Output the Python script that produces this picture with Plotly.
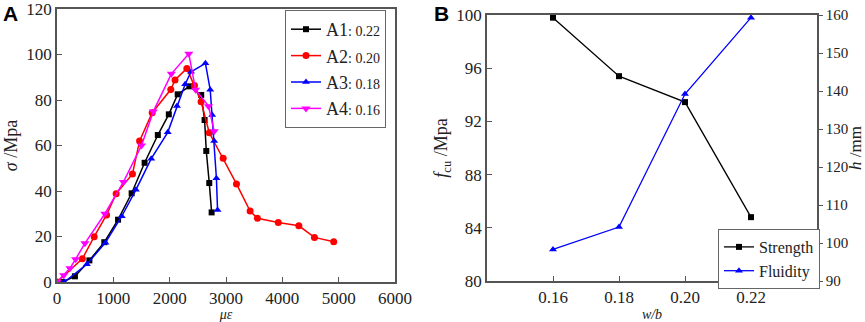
import plotly.graph_objects as go

# ---- Panel A data (stress-strain) ----
a1_x = [100, 318, 575, 840, 1084, 1325, 1555, 1790, 1985, 2143, 2350, 2560, 2620, 2650, 2703, 2745]
a1_y = [0, 2.5, 9.5, 17.5, 27.4, 39, 52.4, 64.6, 73.7, 82.5, 86, 82.2, 71.2, 57.6, 43.5, 30.6]
a2_x = [0, 450, 660, 880, 1050, 1340, 1466, 1690, 2020, 2095, 2305, 2440, 2558, 2703, 2950, 3186, 3428, 3557, 3928, 4293, 4570, 4912]
a2_y = [0, 10.2, 19.9, 29.5, 38.8, 47.5, 62, 74.4, 84.6, 88.8, 93.9, 86.4, 79.2, 65.6, 54.4, 43.1, 31.2, 28, 26.2, 24.7, 19.6, 17.7]
a3_x = [130, 530, 860, 1150, 1400, 1673, 1966, 2130, 2275, 2380, 2635, 2720, 2755, 2790, 2830, 2850]
a3_y = [0, 7.8, 17.3, 28.9, 40.5, 54.2, 65.8, 77.4, 86.9, 92.4, 96.1, 84.5, 73.4, 62, 45.6, 31.6]
a4_x = [0, 120, 230, 330, 495, 850, 1180, 1500, 1710, 2030, 2340, 2460, 2690, 2790]
a4_y = [0, 3, 6, 10, 17, 30, 44, 60, 75, 91.5, 100.3, 84.5, 77.3, 66.3]
a_names = ["A1", "A2", "A3", "A4"]
a_ratios = ["0.22", "0.20", "0.18", "0.16"]

# ---- Panel B data ----
wb = [0.16, 0.18, 0.20, 0.22]
strength = [99.8, 95.4, 93.45, 84.8]
fluidity = [98.3, 104.2, 139.2, 159.3]

SERIF = "Liberation Serif"
TXT = "#222222"
fig = go.Figure()

styles = [
    ("black", "square", 6),
    ("red", "circle", 7),
    ("blue", "triangle-up", 7),
    ("magenta", "triangle-down", 8),
]
for (xs, ys), name, ratio, (col, sym, sz) in zip(
    [(a1_x, a1_y), (a2_x, a2_y), (a3_x, a3_y), (a4_x, a4_y)], a_names, a_ratios, styles
):
    fig.add_trace(go.Scatter(
        x=xs, y=ys, mode="lines+markers",
        name=f"{name}<span style='font-size:14px'>: {ratio}</span>",
        line=dict(color=col, width=1.5),
        marker=dict(color=col, symbol=sym, size=sz),
        xaxis="x", yaxis="y", legend="legend",
    ))

fig.add_trace(go.Scatter(
    x=wb, y=strength, mode="lines+markers", name="Strength",
    line=dict(color="black", width=1.3), marker=dict(color="black", symbol="square", size=6),
    xaxis="x2", yaxis="y2", legend="legend2",
))
fig.add_trace(go.Scatter(
    x=wb, y=fluidity, mode="lines+markers", name="Fluidity",
    line=dict(color="blue", width=1.3), marker=dict(color="blue", symbol="triangle-up", size=7),
    xaxis="x2", yaxis="y3", legend="legend2",
))

W, H = 865, 322
axcol = "#555555"

def ax(size=17, **kw):
    base = dict(showline=True, linecolor=axcol, linewidth=1.5, mirror=True,
                ticks="inside", ticklen=5, tickcolor=axcol, showgrid=False,
                zeroline=False, ticklabeloverflow="allow",
                tickfont=dict(family=SERIF, size=size, color=TXT))
    base.update(kw)
    return base

fig.update_layout(
    width=W, height=H,
    font=dict(family=SERIF, size=17, color=TXT),
    margin=dict(l=0, r=0, t=0, b=0, autoexpand=False),
    paper_bgcolor="white", plot_bgcolor="white",
    showlegend=True,
    xaxis=ax(domain=[57/W, 395/W], range=[0, 6000], tickvals=[0, 1000, 2000, 3000, 4000, 5000, 6000],
             title=dict(text="<i>με</i>", font=dict(family=SERIF, size=14, color=TXT), standoff=5),
             anchor="y"),
    yaxis=ax(domain=[(H-282)/H, (H-9)/H], range=[0, 120], tickvals=[0, 20, 40, 60, 80, 100, 120],
             title=dict(text="<i>σ</i> /Mpa", font=dict(family=SERIF, size=18, color=TXT), standoff=4),
             anchor="x"),
    xaxis2=ax(domain=[487/W, 817/W], range=[0.14, 0.24], tickvals=[0.16, 0.18, 0.20, 0.22],
              ticktext=["0.16", "0.18", "0.20", "0.22"],
              title=dict(text="<i>w/b</i>", font=dict(family=SERIF, size=14, color=TXT), standoff=5),
              anchor="y2"),
    yaxis2=ax(domain=[(H-281)/H, (H-15)/H], range=[80, 100], tickvals=[80, 84, 88, 92, 96, 100],
              title=dict(text="<i>f</i><sub>cu</sub> /Mpa", font=dict(family=SERIF, size=18, color=TXT), standoff=4),
              anchor="x2", mirror=False),
    yaxis3=ax(size=15, domain=[(H-281)/H, (H-15)/H], range=[90, 160], tickvals=[90, 100, 110, 120, 130, 140, 150, 160],
              overlaying="y2", side="right", anchor="x2", mirror=False, ticks="outside", ticklen=4,
              title=dict(text="<i>h</i> /mm", font=dict(family=SERIF, size=17, color=TXT), standoff=2)),
    legend=dict(x=285/W, y=(H-10)/H, xanchor="left", yanchor="top",
                bgcolor="white", bordercolor="#666", borderwidth=1,
                font=dict(family=SERIF, size=18, color=TXT),
                itemwidth=30, tracegroupgap=0),
    legend2=dict(x=718/W, y=(H-229)/H, xanchor="left", yanchor="top",
                 bgcolor="white", bordercolor="#666", borderwidth=1,
                 font=dict(family=SERIF, size=16, color=TXT),
                 itemwidth=30, tracegroupgap=0),
)

fig.add_annotation(text="<b>A</b>", x=1/W, y=1.0, xref="paper", yref="paper",
                   xanchor="left", yanchor="top", showarrow=False,
                   font=dict(family="Liberation Sans", size=21, color="black"))
fig.add_annotation(text="<b>B</b>", x=432/W, y=1.0, xref="paper", yref="paper",
                   xanchor="left", yanchor="top", showarrow=False,
                   font=dict(family="Liberation Sans", size=21, color="black"))

fig.write_html("out.html", config={"displayModeBar": False},
               post_script="document.body.style.margin='0';document.body.style.overflow='hidden';")
